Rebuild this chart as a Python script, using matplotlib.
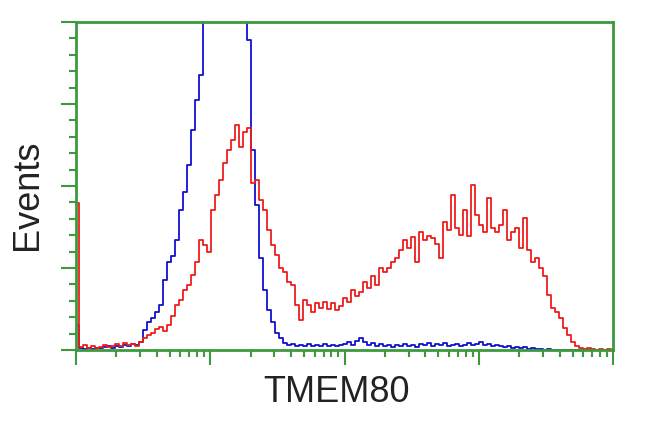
import matplotlib
matplotlib.use('Agg')
import matplotlib.pyplot as plt
from matplotlib.ticker import MultipleLocator, LogLocator, NullFormatter
import numpy as np

# histogram counts, one value per channel bin (4 decades, 135 bins)
red_counts = [179, 4, 6, 2, 5, 2, 4, 6, 4, 5, 7, 5, 9, 6, 7, 5, 10, 15, 18, 21,
              26, 28, 23, 30, 41, 55, 61, 73, 79, 91, 107, 134, 128, 120, 171, 189, 207, 228, 244, 256,
              274, 248, 266, 271, 204, 207, 183, 171, 146, 128, 116, 100, 95, 83, 79, 55, 37, 61, 55, 46,
              57, 51, 59, 50, 57, 49, 54, 63, 59, 73, 66, 71, 83, 76, 90, 79, 100, 95, 100, 107,
              112, 122, 134, 124, 138, 107, 144, 134, 139, 137, 129, 112, 156, 146, 189, 149, 140, 171, 139, 201,
              165, 152, 144, 185, 149, 144, 152, 171, 134, 144, 149, 124, 161, 122, 107, 112, 100, 90, 67, 51,
              46, 39, 27, 18, 10, 5, 2, 1, 2, 1, 0, 1, 0, 1, 0]
blue_counts = [30, 2, 1, 2, 1, 2, 2, 4, 5, 2, 5, 4, 6, 5, 7, 6, 10, 24, 34, 39,
               46, 55, 85, 107, 115, 134, 171, 193, 226, 268, 305, 335, 402, 450, 520, 580, 620, 640, 630, 600,
               560, 500, 440, 378, 244, 177, 112, 73, 49, 34, 21, 15, 9, 6, 7, 5, 6, 5, 7, 5,
               6, 5, 7, 5, 6, 5, 6, 7, 10, 6, 11, 15, 10, 6, 9, 5, 7, 5, 6, 4,
               6, 5, 7, 5, 6, 4, 7, 6, 9, 5, 7, 6, 9, 5, 6, 7, 5, 6, 9, 6,
               7, 10, 6, 7, 5, 6, 5, 4, 5, 2, 4, 2, 4, 1, 2, 1, 1, 0, 1, 0,
               0, 0, 0, 0, 0, 0, 0, 0, 0, 0, 0, 0, 0, 0, 0]

x_label = 'TMEM80'
y_label = 'Events'

green = '#3c9a3c'


def channels(n):
    # bin centres, log scale spread over 4 decades
    step = 16 / 537
    return 10 ** (step / 4 + np.arange(n) * step)


fig = plt.figure(figsize=(6.5, 4.32), dpi=100, facecolor='w')
ax = fig.add_axes([76 / 650, 1 - 350 / 432, 537 / 650, 328 / 432])

ax.plot(channels(len(blue_counts)), blue_counts, color='#1010d0', lw=1.3, drawstyle='steps-mid')
ax.plot(channels(len(red_counts)), red_counts, color='#ee1c1c', lw=1.3, drawstyle='steps-mid')

ax.set_xscale('log')
ax.set_xlim(1, 1e4)
ax.set_ylim(0, 400)

ax.xaxis.set_major_locator(LogLocator(base=10, numticks=10))
ax.xaxis.set_minor_locator(LogLocator(base=10, subs=np.arange(2, 10), numticks=20))
ax.xaxis.set_major_formatter(NullFormatter())
ax.xaxis.set_minor_formatter(NullFormatter())
ax.yaxis.set_major_locator(MultipleLocator(100))
ax.yaxis.set_minor_locator(MultipleLocator(20))
ax.yaxis.set_major_formatter(NullFormatter())

ax.tick_params(which='major', direction='out', length=11, width=1.5, color=green)
ax.tick_params(which='minor', direction='out', length=5, width=1.5, color=green)
ax.tick_params(axis='both', top=False, right=False)

for s in ax.spines.values():
    s.set_color(green)
    s.set_linewidth(2)

fig.text(336 / 650, 1 - 392 / 432, x_label, ha='center', va='center',
         fontsize=26, family='Liberation Sans', color='#222222')
fig.text(28 / 650, 1 - 195 / 432, y_label, ha='center', va='center', rotation=90,
         fontsize=26, family='Liberation Sans', color='#222222')

plt.savefig('out.png', dpi=100, facecolor='w')
